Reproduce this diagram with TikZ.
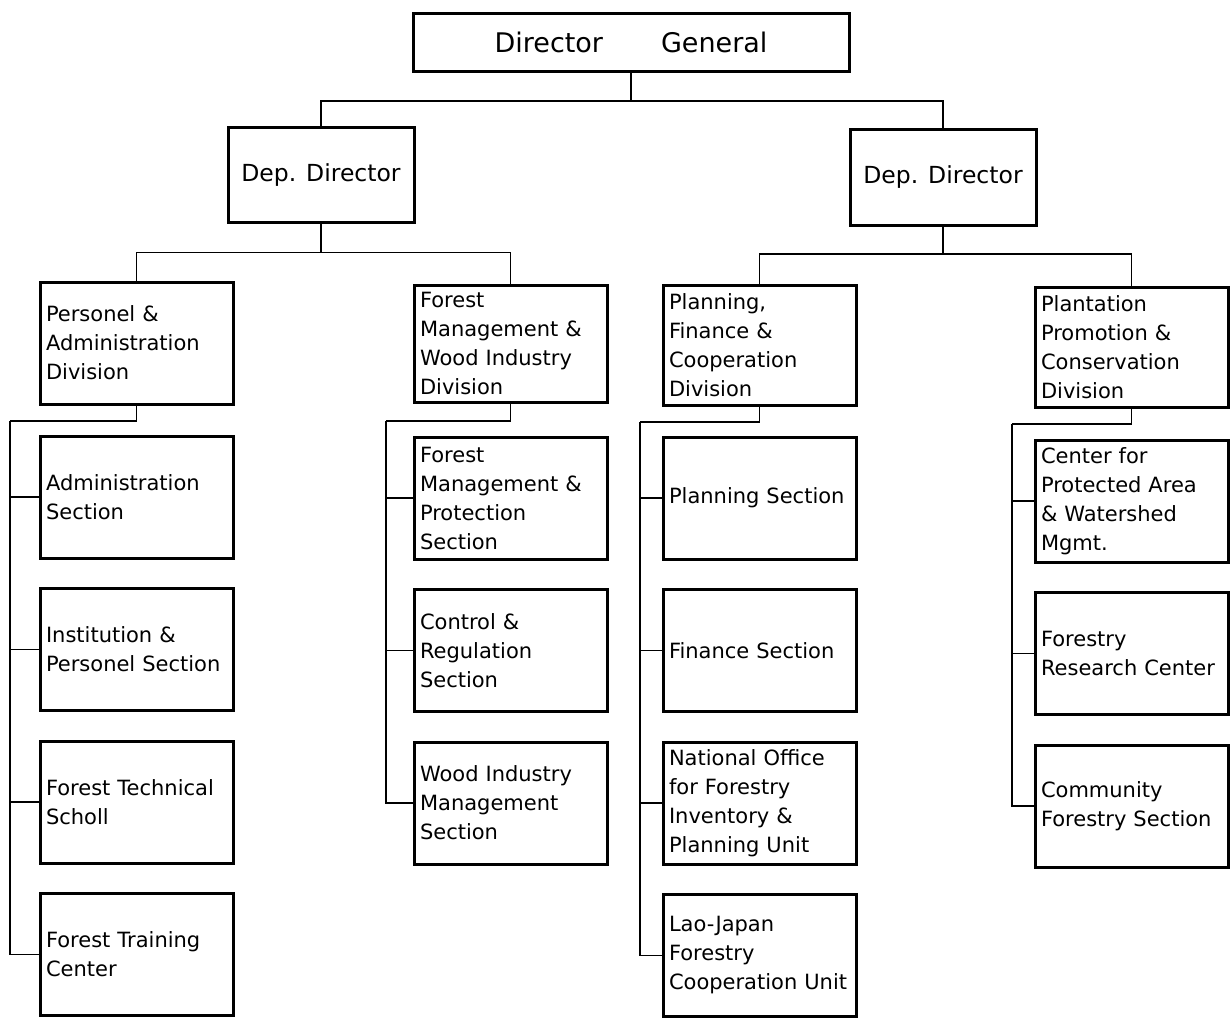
\documentclass[tikz,border=0pt]{standalone}
\usepackage{fontspec}
\setmainfont{DejaVu Sans}
\usetikzlibrary{positioning}

\begin{document}
\begin{tikzpicture}[
    x=1pt, y=-1pt,
    node distance=30.5pt,
    office/.style={rectangle, draw, line width=3pt, outer sep=0pt, inner sep=0pt, align=center, font=\fontsize{23.5}{28}\selectfont},
    unit/.style={rectangle, draw, line width=3pt, outer sep=0pt, inner xsep=6pt, inner ysep=2pt, text width=181pt, minimum height=122pt, align=left, anchor=north west, font=\fontsize{21}{29}\selectfont},
    link/.style={line width=1.2pt}
]
    \useasboundingbox (0,0) rectangle (1232,1018);

    \node[office, minimum width=436pt, minimum height=58pt, font=\fontsize{27}{32}\selectfont] (dg) at (631,42) {Director\hspace{58pt}General};
    \node[office, minimum width=186pt, minimum height=95pt] (depL) at (321,175) {Dep. Director};
    \node[office, minimum width=186pt, minimum height=96pt] (depR) at (943,177) {Dep. Director};

    % divisions
    \node[unit] (persDiv) at (40,282) {Personel \&\\Administration\\Division};
    \node[unit, minimum height=117pt] (fmDiv) at (414,285) {Forest\\Management \&\\Wood Industry\\Division};
    \node[unit, minimum height=120pt] (pfDiv) at (663,285) {Planning,\\Finance \&\\Cooperation\\Division};
    \node[unit, minimum height=120pt] (ppDiv) at (1035,287) {Plantation\\Promotion \&\\Conservation\\Division};

    % sections
    \node[unit, below=32pt of persDiv] (admSec) {Administration\\Section};
    \node[unit, below=of admSec] (instSec) {Institution \&\\Personel Section};
    \node[unit, below=of instSec] (techSch) {Forest Technical\\Scholl};
    \node[unit, below=of techSch] (trainCtr) {Forest Training\\Center};

    \node[unit, below=35pt of fmDiv] (protSec) {Forest\\Management \&\\Protection\\Section};
    \node[unit, below=of protSec] (ctrlSec) {Control \&\\Regulation\\Section};
    \node[unit, below=of ctrlSec] (woodSec) {Wood Industry\\Management\\Section};

    \node[unit, below=32pt of pfDiv] (planSec) {Planning Section};
    \node[unit, below=of planSec] (finSec) {Finance Section};
    \node[unit, below=of finSec] (invUnit) {National Office\\for Forestry\\Inventory \&\\Planning Unit};
    \node[unit, below=of invUnit] (coopUnit) {Lao-Japan\\Forestry\\Cooperation Unit};

    \node[unit, below=33pt of ppDiv] (watCtr) {Center for\\Protected Area\\\& Watershed\\Mgmt.};
    \node[unit, below=of watCtr] (resCtr) {Forestry\\Research Center};
    \node[unit, below=of resCtr] (commSec) {Community\\Forestry Section};

    % top links
    \draw[link] (dg.south) -- ++(0,30) -| (depL.north);
    \draw[link] (dg.south) -- ++(0,30) -| (depR.north);
    \draw[link] (depL.south) -- ++(0,30) -| (persDiv.north);
    \draw[link] (depL.south) -- ++(0,30) -| (fmDiv.north);
    \draw[link] (depR.south) -- ++(0,29) -| (pfDiv.north);
    \draw[link] (depR.south) -- ++(0,29) -| (ppDiv.north);

    % section links
    \coordinate (busA) at (10,421);
    \coordinate (busB) at (386,421);
    \coordinate (busC) at (640,422);
    \coordinate (busD) at (1012,424);
    \draw[link] (persDiv.south) |- (busA);
    \draw[link] (fmDiv.south) |- (busB);
    \draw[link] (pfDiv.south) |- (busC);
    \draw[link] (ppDiv.south) |- (busD);
    \foreach \s in {admSec,instSec,techSch,trainCtr}
        \draw[link] (busA) |- (\s.west);
    \foreach \s in {protSec,ctrlSec,woodSec}
        \draw[link] (busB) |- (\s.west);
    \foreach \s in {planSec,finSec,invUnit,coopUnit}
        \draw[link] (busC) |- (\s.west);
    \foreach \s in {watCtr,resCtr,commSec}
        \draw[link] (busD) |- (\s.west);
\end{tikzpicture}
\end{document}
